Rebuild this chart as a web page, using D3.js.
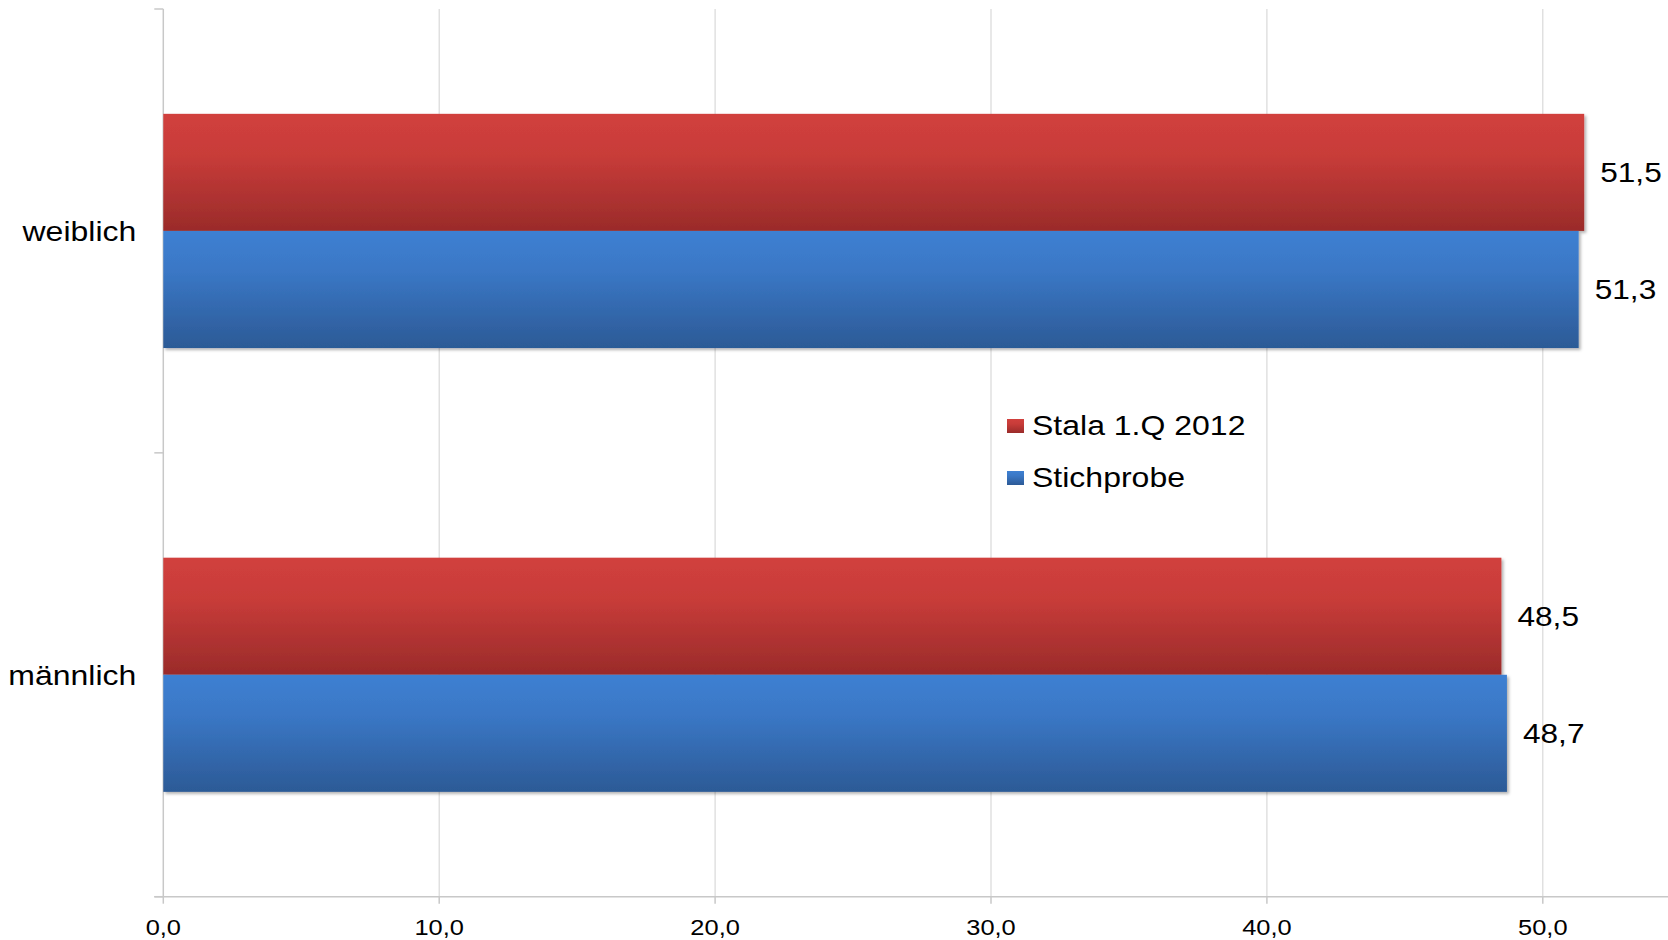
<!DOCTYPE html>
<html>
<head>
<meta charset="utf-8">
<script src="https://cdn.jsdelivr.net/npm/d3@7"></script>
<style>
  html, body { margin: 0; padding: 0; background: #ffffff; }
  svg { display: block; }
  text { font-family: "Liberation Sans", Arial, sans-serif; fill: #000; }
</style>
</head>
<body>
<svg id="chart" width="1668" height="940"></svg>
<script>
// ---- data ----
const categories = ["weiblich", "männlich"];
const seriesNames = ["Stala 1.Q 2012", "Stichprobe"];
const stalaValues = [51.5, 48.5];
const stichprobeValues = [51.3, 48.7];
const xTicks = [0, 10, 20, 30, 40, 50];

const seriesValues = [stalaValues, stichprobeValues];
const rows = [];
categories.forEach((c, ci) => {
  seriesNames.forEach((s, si) => rows.push({ cat: c, series: s, si, value: seriesValues[si][ci] }));
});

const W = 1668, H = 940;
const plotLeft = 163.3, plotTop = 9, plotBottom = 896.7;
const pxPerUnit = 27.59;
const SX = 1.13; // horizontal stretch of the reference text

const svg = d3.select("#chart");
const locale = d3.formatLocale({ decimal: ",", thousands: ".", grouping: [3], currency: ["", "€"] });
const fmt = locale.format(".1f");

const x = d3.scaleLinear().domain([0, 55]).range([plotLeft, plotLeft + 55 * pxPerUnit]);
const y = d3.scaleBand().domain(categories).range([plotTop, plotBottom])
  .paddingInner(0.4724).paddingOuter(0.2362);
const ySub = d3.scaleBand().domain(seriesNames).range([0, y.bandwidth()]);

// gradients
const defs = svg.append("defs");
const grads = [
  { id: "gRed", stops: [["0%", "#d1403d"], ["35%", "#c83c39"], ["100%", "#9a2b2a"]] },
  { id: "gBlue", stops: [["0%", "#3e80d2"], ["35%", "#3a77c5"], ["100%", "#2c5a96"]] }
];
grads.forEach(g => {
  const lg = defs.append("linearGradient").attr("id", g.id)
    .attr("x1", 0).attr("y1", 0).attr("x2", 0).attr("y2", 1);
  g.stops.forEach(s => lg.append("stop").attr("offset", s[0]).attr("stop-color", s[1]));
});
const f = defs.append("filter").attr("id", "shadow")
  .attr("x", "-5%").attr("y", "-5%").attr("width", "110%").attr("height", "115%");
f.append("feDropShadow").attr("dx", 2).attr("dy", 2).attr("stdDeviation", 1.5)
  .attr("flood-color", "#000").attr("flood-opacity", 0.3);
const fills = ["url(#gRed)", "url(#gBlue)"];

// gridlines
svg.append("g").selectAll("line").data(xTicks.filter(d => d > 0)).join("line")
  .attr("x1", d => x(d)).attr("x2", d => x(d))
  .attr("y1", plotTop).attr("y2", plotBottom)
  .attr("stroke", "#d9d9d9").attr("stroke-width", 1.2);

// bottom axis line + ticks
svg.append("line").attr("x1", plotLeft - 9).attr("x2", W).attr("y1", plotBottom).attr("y2", plotBottom)
  .attr("stroke", "#c8c8c8").attr("stroke-width", 1.5);
svg.append("g").selectAll("line").data(xTicks).join("line")
  .attr("x1", d => x(d)).attr("x2", d => x(d))
  .attr("y1", plotBottom).attr("y2", plotBottom + 7)
  .attr("stroke", "#c8c8c8").attr("stroke-width", 1.5);

// tick labels
svg.append("g").selectAll("text").data(xTicks).join("text")
  .attr("transform", d => `translate(${x(d)},${935}) scale(${SX},1)`)
  .attr("text-anchor", "middle")
  .style("font-size", "22.5px")
  .text(d => fmt(d));

// left axis line + ticks
svg.append("line").attr("x1", plotLeft).attr("x2", plotLeft).attr("y1", plotTop).attr("y2", plotBottom)
  .attr("stroke", "#c8c8c8").attr("stroke-width", 1.5);
const bounds = [plotTop, (plotTop + plotBottom) / 2, plotBottom];
svg.append("g").selectAll("line").data(bounds).join("line")
  .attr("x1", plotLeft - 9).attr("x2", plotLeft)
  .attr("y1", d => d).attr("y2", d => d)
  .attr("stroke", "#c8c8c8").attr("stroke-width", 1.5);

// category labels
svg.append("g").selectAll("text").data(categories).join("text")
  .attr("transform", d => `translate(${plotLeft - 27},${y(d) + y.bandwidth() / 2 + 10}) scale(${SX * 1.03},1)`)
  .attr("text-anchor", "end")
  .style("font-size", "27.5px")
  .text(d => d);

// bars
svg.append("g").selectAll("rect").data(rows).join("rect")
  .attr("x", x(0))
  .attr("y", d => y(d.cat) + ySub(d.series))
  .attr("width", d => x(d.value) - x(0))
  .attr("height", ySub.bandwidth())
  .attr("fill", d => fills[d.si])
  .attr("filter", "url(#shadow)");

// value labels
svg.append("g").selectAll("text").data(rows).join("text")
  .attr("transform", d => `translate(${x(d.value) + 16},${y(d.cat) + ySub(d.series) + ySub.bandwidth() / 2 + 10}) scale(${SX},1)`)
  .style("font-size", "28px")
  .text(d => fmt(d.value));

// legend
const legend = svg.append("g").attr("transform", "translate(1007,419)");
const li = legend.selectAll("g").data(seriesNames).join("g")
  .attr("transform", (d, i) => `translate(0,${i * 52})`);
li.append("rect").attr("width", 17).attr("height", 14).attr("fill", (d, i) => fills[i]);
li.append("text")
  .attr("transform", `translate(25,16) scale(${SX * 1.03},1)`)
  .style("font-size", "27.5px")
  .text(d => d);
</script>
</body>
</html>
